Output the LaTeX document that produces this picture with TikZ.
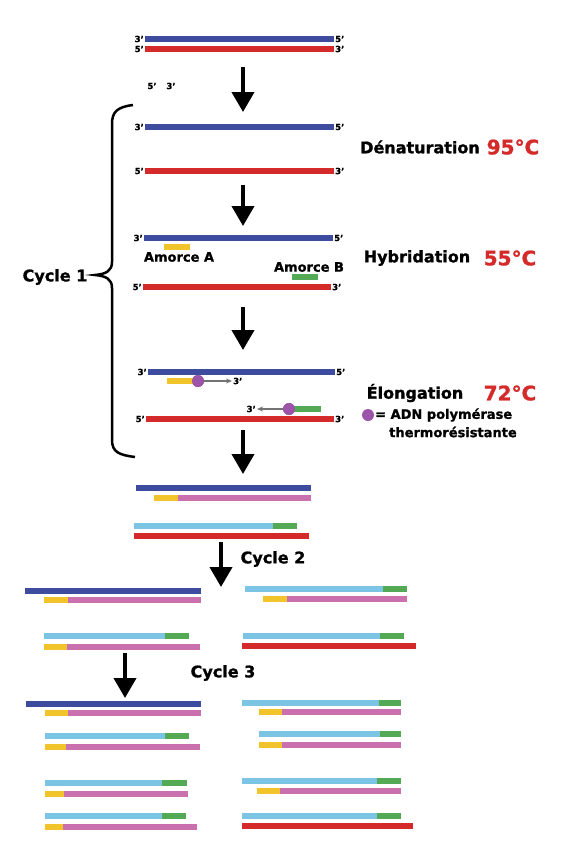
\documentclass[tikz,border=0pt]{standalone}
\usepackage{fontspec}
\setmainfont{DejaVu Sans}[BoldFeatures={FakeBold=1.2}]
\usetikzlibrary{arrows.meta}

\definecolor{brinbleu}{RGB}{62,76,160}
\definecolor{brinrouge}{RGB}{212,42,42}
\definecolor{brinrose}{RGB}{202,112,174}
\definecolor{brinciel}{RGB}{124,196,228}
\definecolor{amorcevert}{RGB}{84,170,84}
\definecolor{amorcejaune}{RGB}{242,196,44}
\definecolor{polviolet}{RGB}{156,84,168}

\begin{document}
\begin{tikzpicture}[x=1pt,y=-1pt,
                    font=\bfseries,
                    line cap=butt]
    \tikzstyle{strand}=[line width=5.5pt]
    \tikzstyle{bleu}=[strand, draw=brinbleu]
    \tikzstyle{rouge}=[strand, draw=brinrouge]
    \tikzstyle{rose}=[strand, draw=brinrose]
    \tikzstyle{ciel}=[strand, draw=brinciel]
    \tikzstyle{vert}=[strand, draw=amorcevert]
    \tikzstyle{jaune}=[strand, draw=amorcejaune]
    \tikzstyle{bout}=[inner sep=1pt, font=\bfseries\fontsize{8.5}{8.5}\selectfont]
    \tikzstyle{etape}=[inner sep=0pt, font=\bfseries\fontsize{16}{16}\selectfont]
    \tikzstyle{temp}=[inner sep=0pt, text=brinrouge, font=\bfseries\fontsize{20}{20}\selectfont]
    \tikzstyle{amorce}=[inner sep=0pt, font=\bfseries\fontsize{13}{13}\selectfont]
    \tikzstyle{fleche}=[line width=4pt, -{Triangle[width=22pt,length=20pt]}]
    \tikzstyle{petite}=[line width=1.3pt, draw=black!55, -{Stealth[length=6pt,width=5pt]}]
    \tikzstyle{pol}=[circle, fill=polviolet, minimum size=12pt, inner sep=0pt]

    \useasboundingbox (0,0) rectangle (563,855);

    % double brin de depart
    \draw[bleu] (145,39) -- (334,39);
    \draw[rouge] (145,49) -- (334,49);
    \node[bout, anchor=east] (d3g) at (145,39) {3'};
    \node[bout, anchor=west] (d5d) at (334,39) {5'};
    \node[bout, anchor=east] (d5g) at (145,49) {5'};
    \node[bout, anchor=west] (d3d) at (334,49) {3'};
    \node[bout] (x5) at (152,86) {5'};
    \node[bout] (x3) at (171,86) {3'};

    % fleches
    \coordinate (f1a) at (243,67);  \coordinate (f1b) at (243,112);
    \coordinate (f2a) at (243,185); \coordinate (f2b) at (243,226);
    \coordinate (f3a) at (243,307); \coordinate (f3b) at (243,350);
    \coordinate (f4a) at (243,430); \coordinate (f4b) at (243,474);
    \coordinate (f5a) at (221,542); \coordinate (f5b) at (221,587);
    \coordinate (f6a) at (125,653); \coordinate (f6b) at (125,698);
    \draw[fleche] (f1a) -- (f1b);
    \draw[fleche] (f2a) -- (f2b);
    \draw[fleche] (f3a) -- (f3b);
    \draw[fleche] (f4a) -- (f4b);
    \draw[fleche] (f5a) -- (f5b);
    \draw[fleche] (f6a) -- (f6b);

    % denaturation
    \draw[bleu] (145,127) -- (334,127);
    \draw[rouge] (145,171) -- (334,171);
    \node[bout, anchor=east] (n3g) at (145,127) {3'};
    \node[bout, anchor=west] (n5d) at (334,127) {5'};
    \node[bout, anchor=east] (n5g) at (145,171) {5'};
    \node[bout, anchor=west] (n3d) at (334,171) {3'};
    \node[etape] (denat) at (420,147) {Dénaturation};
    \node[temp] (t95) at (513,147) {95°C};

    % hybridation
    \draw[bleu] (144,238) -- (333,238);
    \draw[jaune] (164,247) -- (190,247);
    \draw[vert] (292,277) -- (318,277);
    \draw[rouge] (143,287) -- (331,287);
    \node[bout, anchor=east] (h3g) at (144,238) {3'};
    \node[bout, anchor=west] (h5d) at (333,238) {5'};
    \node[bout, anchor=east] (h5g) at (143,287) {5'};
    \node[bout, anchor=west] (h3d) at (331,287) {3'};
    \node[amorce] (amA) at (179,257) {Amorce A};
    \node[amorce] (amB) at (309,267) {Amorce B};
    \node[etape] (hybrid) at (417,258) {Hybridation};
    \node[temp] (t55) at (510,258) {55°C};

    % elongation
    \draw[bleu] (148,372) -- (335,372);
    \node[bout, anchor=east] (e3g) at (148,372) {3'};
    \node[bout, anchor=west] (e5d) at (335,372) {5'};
    \node[pol] (polA) at (198,381) {};
    \node[bout, anchor=west] (e3a) at (232,381) {3'};
    \draw[petite] (polA) -- (e3a);
    \draw[jaune] (167,381) -- (polA.center);
    \node[pol] (polA) at (198,381) {};
    \node[pol] (polB) at (289,409) {};
    \node[bout, anchor=east] (e3b) at (257,409) {3'};
    \draw[petite] (polB) -- (e3b);
    \draw[vert] (polB.center) -- (321,409);
    \node[pol] (polB) at (289,409) {};
    \draw[rouge] (146,419) -- (334,419);
    \node[bout, anchor=east] (e5g) at (146,419) {5'};
    \node[bout, anchor=west] (e3d) at (334,419) {3'};
    \node[etape] (elong) at (415,393) {Élongation};
    \node[temp] (t72) at (510,393) {72°C};
    \node[pol] (legpol) at (368,415) {};
    \node[amorce, anchor=west] (leg1) at (375,415) {= ADN polymérase};
    \node[amorce, anchor=west] (leg2) at (389,432) {thermorésistante};

    % accolade du cycle 1
    \draw[line width=2.5pt]
        (133,105) .. controls (117,107) and (112,112) .. (112,124)
        -- (112,262) .. controls (112,271) and (106,274) .. (95,275)
        .. controls (106,276) and (112,279) .. (112,288)
        -- (112,440) .. controls (112,452) and (119,455) .. (135,457);
    \node[etape] (cyc1) at (55,277) {Cycle 1};

    % apres le cycle 1
    \draw[bleu] (136,488) -- (311,488);
    \draw[jaune] (154,498) -- (178,498);
    \draw[rose] (178,498) -- (311,498);
    \draw[ciel] (134,526) -- (273,526);
    \draw[vert] (273,526) -- (297,526);
    \draw[rouge] (134,536) -- (309,536);
    \node[etape] (cyc2) at (273,559) {Cycle 2};

    % apres le cycle 2
    \draw[bleu] (25,591) -- (201,591);
    \draw[jaune] (44,600) -- (68,600);
    \draw[rose] (68,600) -- (201,600);
    \draw[ciel] (245,589) -- (383,589);
    \draw[vert] (383,589) -- (407,589);
    \draw[jaune] (263,599) -- (287,599);
    \draw[rose] (287,599) -- (407,599);
    \draw[ciel] (44,636) -- (165,636);
    \draw[vert] (165,636) -- (189,636);
    \draw[jaune] (44,647) -- (67,647);
    \draw[rose] (67,647) -- (200,647);
    \draw[ciel] (243,636) -- (380,636);
    \draw[vert] (380,636) -- (404,636);
    \draw[rouge] (242,646) -- (416,646);
    \node[etape] (cyc3) at (223,673) {Cycle 3};

    % apres le cycle 3
    \draw[bleu] (26,704) -- (201,704);
    \draw[jaune] (45,713) -- (68,713);
    \draw[rose] (68,713) -- (201,713);
    \draw[ciel] (45,736) -- (165,736);
    \draw[vert] (165,736) -- (189,736);
    \draw[jaune] (45,747) -- (66,747);
    \draw[rose] (66,747) -- (200,747);
    \draw[ciel] (45,783) -- (162,783);
    \draw[vert] (162,783) -- (187,783);
    \draw[jaune] (45,794) -- (64,794);
    \draw[rose] (64,794) -- (188,794);
    \draw[ciel] (45,816) -- (162,816);
    \draw[vert] (162,816) -- (186,816);
    \draw[jaune] (45,827) -- (63,827);
    \draw[rose] (63,827) -- (197,827);

    \draw[ciel] (242,703) -- (379,703);
    \draw[vert] (379,703) -- (401,703);
    \draw[jaune] (259,712) -- (282,712);
    \draw[rose] (282,712) -- (401,712);
    \draw[ciel] (259,734) -- (380,734);
    \draw[vert] (380,734) -- (401,734);
    \draw[jaune] (259,745) -- (282,745);
    \draw[rose] (282,745) -- (401,745);
    \draw[ciel] (242,781) -- (377,781);
    \draw[vert] (377,781) -- (401,781);
    \draw[jaune] (257,791) -- (280,791);
    \draw[rose] (280,791) -- (401,791);
    \draw[ciel] (242,816) -- (377,816);
    \draw[vert] (377,816) -- (401,816);
    \draw[rouge] (242,826) -- (413,826);
\end{tikzpicture}
\end{document}
